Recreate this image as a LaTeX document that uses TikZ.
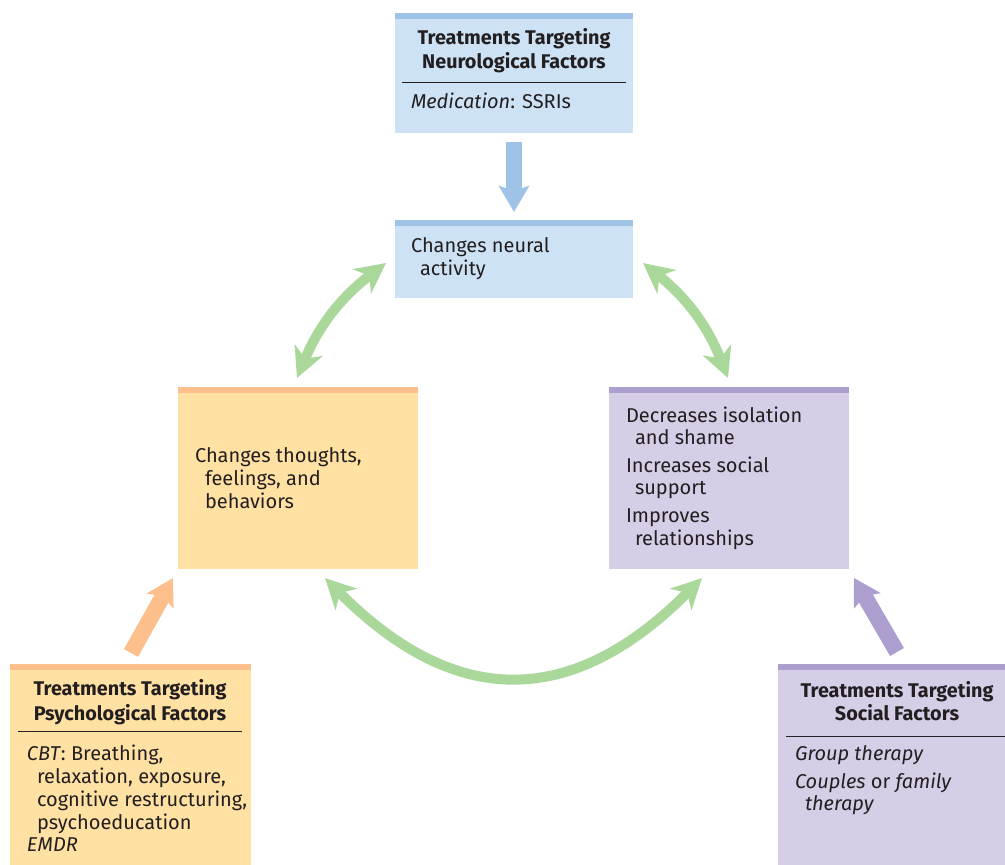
\documentclass[tikz,border=0pt]{standalone}
\usepackage{fontspec}
\setmainfont{Fira Sans}
\usetikzlibrary{arrows.meta,calc}
\definecolor{txt}{HTML}{231F20}
\definecolor{bluefill}{HTML}{CDE2F5}
\definecolor{bluebar}{HTML}{9EC3E7}
\definecolor{yelfill}{HTML}{FFE1A4}
\definecolor{orabar}{HTML}{FDBF8B}
\definecolor{purfill}{HTML}{D6CDE7}
\definecolor{purbar}{HTML}{AC9FCF}
\definecolor{grn}{HTML}{AAD89B}
\tikzset{
  boxnode/.style={rectangle, anchor=north west, inner sep=0, outer sep=0, draw=none},
  line/.style={anchor=base west, inner sep=0, outer sep=0, text=txt, font=\fontsize{20}{22}\selectfont},
  title/.style={anchor=base, inner sep=0, outer sep=0, text=txt, font=\fontsize{19.8}{22}\selectfont\bfseries},
  rulestyle/.style={draw=txt, line width=1pt},
  fatarrow/.style={line width=16pt, -{Stealth[length=26pt, width=30pt, inset=5pt]}},
  greenarc/.style={grn, line width=10pt, {Stealth[length=30pt, width=30pt, inset=9pt]}-{Stealth[length=30pt, width=30pt, inset=9pt]}}
}
\begin{document}
\begin{tikzpicture}[x=1pt, y=-1pt]
\useasboundingbox (0,0) rectangle (1005,865);
% boxes
\node[boxnode, fill=bluefill, minimum width=238pt, minimum height=120pt] (nb) at (395,13) {};
\fill[bluebar] (nb.north west) rectangle ($(nb.north east)+(0,6)$);
\node[boxnode, fill=bluefill, minimum width=238pt, minimum height=78pt] (na) at (395,220) {};
\fill[bluebar] (na.north west) rectangle ($(na.north east)+(0,6)$);
\node[boxnode, fill=yelfill, minimum width=240pt, minimum height=182pt] (ya) at (178,387) {};
\fill[orabar] (ya.north west) rectangle ($(ya.north east)+(0,6)$);
\node[boxnode, fill=purfill, minimum width=240pt, minimum height=182pt] (pa) at (609,387) {};
\fill[purbar] (pa.north west) rectangle ($(pa.north east)+(0,6)$);
\node[boxnode, fill=yelfill, minimum width=241pt, minimum height=201pt] (yb) at (10,664) {};
\fill[orabar] (yb.north west) rectangle ($(yb.north east)+(0,6)$);
\node[boxnode, fill=purfill, minimum width=227pt, minimum height=201pt] (pb) at (778,664) {};
\fill[purbar] (pb.north west) rectangle ($(pb.north east)+(0,6)$);

% top box text
\node[title] (nbt1) at (514,44) {Treatments Targeting};
\node[title] (nbt2) at (514,68) {Neurological Factors};
\draw[rulestyle] (402,82) coordinate (nbr1) -- (626,82) coordinate (nbr2);
\node[line] (nbl1) at (411,108) {\textit{Medication}: SSRIs};

% neural box text
\node[line] (nal1) at (411,252) {Changes neural};
\node[line] (nal2) at (420,275) {activity};

% yellow box text
\node[line] (yal1) at (195,462) {Changes thoughts,};
\node[line] (yal2) at (205,485) {feelings, and};
\node[line] (yal3) at (205,508) {behaviors};

% purple box text
\node[line] (pal1) at (626,422) {Decreases isolation};
\node[line] (pal2) at (635,444) {and shame};
\node[line] (pal3) at (626,472) {Increases social};
\node[line] (pal4) at (635,494) {support};
\node[line] (pal5) at (626,522) {Improves};
\node[line] (pal6) at (635,545) {relationships};

% bottom-left
\node[title] (ybt1) at (130,695) {Treatments Targeting};
\node[title] (ybt2) at (130,720) {Psychological Factors};
\draw[rulestyle] (18,731) coordinate (ybr1) -- (242,731) coordinate (ybr2);
\node[line] (ybl1) at (27,760) {\textit{CBT}: Breathing,};
\node[line] (ybl2) at (37,783) {relaxation, exposure,};
\node[line] (ybl3) at (37,806) {cognitive restructuring,};
\node[line] (ybl4) at (37,829) {psychoeducation};
\node[line] (ybl5) at (27,851) {\textit{EMDR}};

% bottom-right
\node[title] (pbt1) at (897,697) {Treatments Targeting};
\node[title] (pbt2) at (897,720) {Social Factors};
\draw[rulestyle] (786,736) coordinate (pbr1) -- (1005,736) coordinate (pbr2);
\node[line] (pbl1) at (795,760) {\textit{Group therapy}};
\node[line] (pbl2) at (795,788) {\textit{Couples} or \textit{family}};
\node[line] (pbl3) at (805,810) {\textit{therapy}};

% arrows
\coordinate (bs) at (514,142);
\coordinate (be) at (514,212);
\draw[fatarrow, bluebar] (bs) -- (be);
\coordinate (os) at (131,653);
\coordinate (oe) at (173,578);
\draw[fatarrow, orabar] (os) -- (oe);
\coordinate (ps) at (897,652);
\coordinate (pe) at (854,578);
\draw[fatarrow, purbar] (ps) -- (pe);

\coordinate (gl1) at (297,378);
\coordinate (gl2) at (386,263);
\draw[greenarc] (gl1) to[bend left=15] (gl2);
\coordinate (gr1) at (643,263);
\coordinate (gr2) at (728,378);
\draw[greenarc] (gr1) to[bend left=15] (gr2);
\coordinate (gb1) at (325,578);
\coordinate (gb2) at (702,578);
\draw[greenarc] (gb1) .. controls (455,709) and (572,709) .. (gb2);
\end{tikzpicture}
\end{document}
